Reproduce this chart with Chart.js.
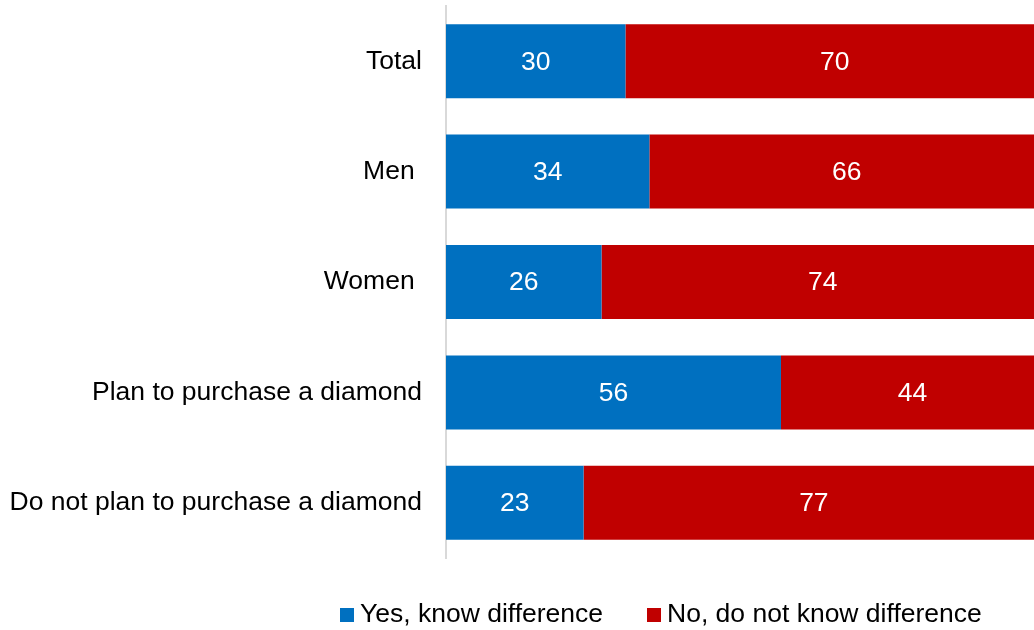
<!DOCTYPE html>
<html>
<head>
<meta charset="utf-8">
<script src="https://cdn.jsdelivr.net/npm/chart.js@4.4.0/dist/chart.umd.min.js"></script>
<style>
  html, body { margin: 0; padding: 0; background: #fff; }
  #wrap { position: relative; width: 1034px; height: 630px; overflow: hidden; }
  #legend { position: absolute; top: 597px; left: 0; width: 1034px; height: 32px;
    font-family: "Liberation Sans", Arial, sans-serif; font-size: 26.5px; color: #000; }
  .item { position: absolute; top: 0; line-height: 32px; white-space: nowrap; }
  .box { position: absolute; top: 11px; width: 14px; height: 14px; }
</style>
</head>
<body>
<div id="wrap">
  <canvas id="myChart" width="1034" height="630"></canvas>
  <div id="legend"></div>
</div>
<script>
//DATA
const categories = ["Total", "Men ", "Women ", "Plan to purchase a diamond", "Do not plan to purchase a diamond"];
const seriesNames = ["Yes, know difference", "No, do not know difference"];
const yesValues = [30, 34, 26, 56, 23];
const noValues = [70, 66, 74, 44, 77];
const colours = ["#0070C0", "#C00000"];

const FONT = "'Liberation Sans', Arial, sans-serif";
const FONT_SIZE = 26.5;

//VALUE LABELS IN THE BARS
const barLabels = {
  id: "barLabels",
  afterDatasetsDraw(chart) {
    const ctx = chart.ctx;
    ctx.save();
    ctx.font = FONT_SIZE + "px " + FONT;
    ctx.fillStyle = "#fff";
    ctx.textAlign = "center";
    ctx.textBaseline = "middle";
    chart.data.datasets.forEach((ds, i) => {
      chart.getDatasetMeta(i).data.forEach((bar, j) => {
        const x = (bar.x + bar.base) / 2;
        ctx.fillText(String(ds.data[j]), x, bar.y + 1);
      });
    });
    ctx.restore();
  },
};

const data = {
  labels: categories,
  datasets: [
    {
      label: seriesNames[0],
      data: yesValues,
      backgroundColor: colours[0],
      barPercentage: 0.67,
      categoryPercentage: 1,
    },
    {
      label: seriesNames[1],
      data: noValues,
      backgroundColor: colours[1],
      barPercentage: 0.67,
      categoryPercentage: 1,
    },
  ],
};

const config = {
  type: "bar",
  data,
  options: {
    indexAxis: "y",
    responsive: false,
    animation: false,
    layout: { padding: { top: 6, bottom: 72, left: 0, right: 0 } },
    plugins: {
      legend: { display: false },
      tooltip: { enabled: false },
    },
    scales: {
      x: {
        stacked: true,
        min: 0,
        // the 100% end sits a little past the right edge in the original
        max: 98.3,
        display: false,
      },
      y: {
        stacked: true,
        grid: { display: false, drawTicks: false },
        border: { display: true, color: "#d9d9d9", width: 2 },
        ticks: {
          color: "#000",
          padding: 24,
          font: { family: FONT, size: FONT_SIZE },
        },
        afterFit(scale) {
          scale.width = 446;
          scale.paddingTop = 0;
          scale.paddingBottom = 0;
        },
      },
    },
  },
  plugins: [barLabels],
};

// RENDER CHART
const myChart = new Chart(document.getElementById("myChart"), config);

//HTML LEGEND
const legendPos = [340, 647];
const legend = document.getElementById("legend");
seriesNames.forEach((name, i) => {
  const box = document.createElement("div");
  box.className = "box";
  box.style.left = legendPos[i] + "px";
  box.style.background = colours[i];
  legend.appendChild(box);
  const item = document.createElement("div");
  item.className = "item";
  item.style.left = legendPos[i] + 20 + "px";
  item.textContent = name;
  legend.appendChild(item);
});
</script>
</body>
</html>
